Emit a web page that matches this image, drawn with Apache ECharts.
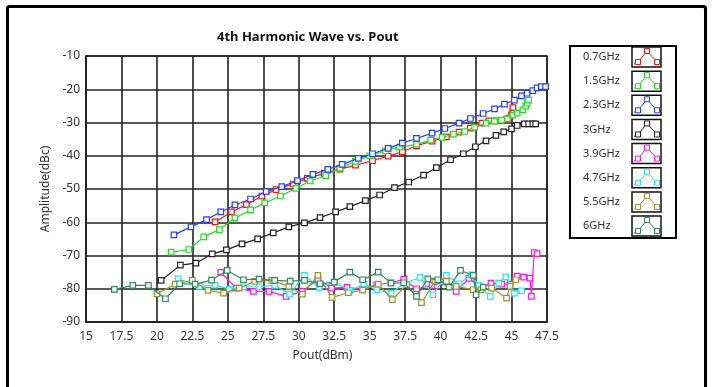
<!DOCTYPE html>
<html>
<head>
<meta charset="utf-8">
<script src="https://cdn.jsdelivr.net/npm/echarts@6/dist/echarts.min.js"></script>
<style>
  html, body { margin: 0; padding: 0; background: #fff; }
  #chart { width: 712px; height: 387px; }
</style>
</head>
<body>
<div id="chart"></div>
<script>
// Frequencies and their trace colours
const seriesNames = ['0.7GHz', '1.5GHz', '2.3GHz', '3GHz', '3.9GHz', '4.7GHz', '5.5GHz', '6GHz'];
const seriesColors = ['#ff1010', '#22dd22', '#2040ff', '#222222', '#ff10ff', '#20e8f0', '#9c9428', '#2e8b5a'];

// Axis ticks
const xTicks = { min: 15, max: 47.5, step: 2.5 };
const yTicks = { min: -90, max: -10, step: 10 };

// Measured [Pout (dBm), amplitude (dBc)] pairs per frequency
const f07 = [[24.1,-59.9],[25.25,-56.9],[26.3,-54.7],[27.4,-52.1],[28.4,-50.2],[29.6,-48.5],[30.6,-46.8],[31.8,-45.3],[32.9,-44.0],[34.0,-42.8],[35.2,-41.5],[36.3,-40.1],[37.3,-38.8],[38.3,-37.0],[39.4,-35.6],[40.4,-34.3],[41.3,-32.9],[42.1,-31.7],[42.9,-30.2],[43.4,-29.5],[43.9,-29.5],[44.3,-29.4],[44.6,-29.2],[44.8,-28.7],[45.0,-27.7],[45.1,-26.7],[45.1,-25.5]];
const f15 = [[21.0,-69.0],[22.25,-68.2],[23.3,-64.4],[24.4,-62.2],[25.5,-58.7],[26.6,-56.3],[27.6,-54.2],[28.7,-52.1],[29.8,-49.8],[30.8,-47.6],[31.9,-46.0],[32.9,-43.7],[34.0,-41.7],[35.0,-40.0],[36.1,-38.5],[37.1,-37.4],[38.3,-36.6],[39.3,-35.3],[40.1,-34.5],[40.9,-33.5],[41.7,-32.7],[42.4,-31.4],[43.2,-30.2],[43.8,-29.6],[44.3,-29.3],[44.7,-28.9],[45.1,-27.8],[45.4,-27.2],[45.8,-26.2],[46.0,-25.1],[46.1,-24.2],[46.2,-23.3]];
const f23 = [[21.2,-63.8],[22.4,-61.4],[23.5,-59.2],[24.5,-56.9],[25.5,-54.8],[26.6,-53.0],[27.7,-50.8],[28.8,-49.3],[29.9,-47.5],[31.0,-45.6],[32.05,-44.1],[33.06,-42.6],[34.2,-40.8],[35.2,-39.4],[36.3,-37.8],[37.3,-36.2],[38.3,-34.8],[39.4,-33.2],[40.3,-31.8],[41.3,-30.2],[42.1,-28.8],[43.0,-27.3],[43.8,-25.9],[44.5,-24.5],[45.2,-23.3],[45.7,-22.0],[46.1,-21.2],[46.5,-20.4],[46.8,-19.6],[47.1,-19.2],[47.4,-19.2]];
const f30 = [[20.3,-77.5],[21.65,-72.9],[22.75,-72.3],[23.9,-69.5],[24.9,-68.3],[26.0,-66.5],[27.1,-65.0],[28.2,-63.2],[29.3,-61.4],[30.4,-60.2],[31.5,-58.6],[32.6,-56.9],[33.6,-55.3],[34.7,-53.5],[35.7,-51.8],[36.75,-49.6],[37.75,-47.9],[38.8,-45.8],[39.7,-43.6],[40.7,-41.2],[41.6,-39.4],[42.45,-37.3],[43.2,-35.5],[43.9,-33.9],[44.45,-32.8],[45.0,-31.9],[45.4,-30.9],[45.9,-30.4],[46.2,-30.4],[46.5,-30.4],[46.7,-30.4]];
const f39 = [[24.5,-75.1],[25.6,-79.8],[26.8,-80.8],[27.9,-80.8],[29.1,-82.3],[30.25,-80.8],[31.35,-77.1],[32.3,-79.8],[33.4,-79.6],[34.5,-80.2],[35.5,-78.8],[36.5,-78.2],[37.4,-77.2],[38.3,-80.0],[39.4,-79.0],[40.2,-78.0],[41.1,-80.8],[42.0,-76.9],[42.85,-79.8],[43.55,-78.3],[44.3,-78.6],[44.9,-78.6],[45.4,-76.2],[45.85,-76.5],[46.3,-76.8],[46.4,-82.3],[46.6,-69.1],[46.8,-69.4]];
const f47 = [[21.5,-77.0],[23.0,-79.3],[24.1,-78.9],[25.1,-80.1],[26.1,-79.4],[27.2,-79.4],[28.3,-79.0],[29.35,-81.6],[30.4,-76.0],[31.45,-79.6],[32.5,-78.0],[33.6,-80.6],[34.6,-78.6],[35.5,-80.3],[36.5,-81.3],[37.45,-78.3],[38.55,-76.6],[39.45,-81.8],[40.4,-76.0],[41.3,-78.5],[42.15,-75.8],[42.7,-79.0],[43.5,-82.3],[44.1,-78.3],[44.6,-76.4],[45.2,-81.3],[45.7,-80.6]];
const f55 = [[20.0,-81.5],[21.3,-78.6],[22.5,-77.5],[23.6,-80.5],[24.7,-81.3],[25.8,-79.8],[26.9,-77.8],[28.1,-77.5],[29.3,-79.3],[30.25,-81.6],[31.35,-76.0],[32.35,-82.6],[33.5,-81.2],[34.5,-80.4],[35.6,-78.6],[36.6,-83.3],[37.6,-78.8],[38.65,-84.2],[39.6,-77.7],[40.4,-77.8],[41.1,-79.3],[42.3,-80.3],[42.85,-80.3],[43.6,-79.8],[44.65,-82.8],[44.9,-79.3],[45.3,-77.3]];
const f60 = [[17.0,-80.2],[18.3,-79.0],[19.4,-79.0],[20.6,-83.0],[21.6,-78.5],[22.7,-78.6],[23.85,-77.4],[24.95,-74.5],[26.1,-77.3],[27.2,-77.1],[28.3,-77.5],[29.4,-77.7],[30.4,-77.5],[31.5,-78.5],[32.5,-78.0],[33.6,-75.0],[34.5,-77.3],[35.6,-75.0],[36.5,-78.3],[37.4,-78.2],[38.3,-82.3],[39.1,-77.0],[39.8,-77.3],[40.6,-79.5],[41.4,-74.5],[42.3,-76.0],[42.5,-81.8],[43.0,-79.5]];

const allData = [f07, f15, f23, f30, f39, f47, f55, f60];

const FONT = 'Noto Sans';
const chart = echarts.init(document.getElementById('chart'));

// Legend box: one row per frequency with a small line-and-marker swatch
const legendItems = [
  { type: 'rect', shape: { x: 570, y: 46, width: 106, height: 192 },
    style: { fill: '#fff', stroke: '#000', lineWidth: 2 }, z: 10 }
];
seriesNames.forEach((name, i) => {
  const cy = 57 + i * 24.15;
  const c = seriesColors[i];
  legendItems.push({ type: 'text', x: 583, y: cy, z: 11,
    style: { text: name, font: '11px "' + FONT + '"', fill: '#333', verticalAlign: 'middle' } });
  legendItems.push({ type: 'rect', shape: { x: 632, y: cy - 10, width: 29, height: 20 }, z: 11,
    style: { fill: '#fff', stroke: '#111', lineWidth: 1.5 } });
  legendItems.push({ type: 'polyline', z: 12,
    shape: { points: [[634, cy + 7], [638, cy + 5], [647, cy - 6], [657, cy + 5], [660, cy + 2]] },
    style: { stroke: c, lineWidth: 1, fill: null } });
  [[638, cy + 5], [647, cy - 6], [657, cy + 5]].forEach(p => {
    legendItems.push({ type: 'rect', z: 13, shape: { x: p[0] - 2.5, y: p[1] - 2.5, width: 5, height: 5 },
      style: { fill: '#fff', stroke: c, lineWidth: 1 } });
  });
});

const option = {
  backgroundColor: '#fff',
  animation: false,
  title: {
    text: '4th Harmonic Wave vs. Pout',
    left: 212, top: 26,
    textStyle: { fontFamily: FONT, fontSize: 13, fontWeight: 'bold', color: '#111' }
  },
  grid: { left: 86, right: 165, top: 56, bottom: 65, show: true, borderColor: '#222', borderWidth: 1.5 },
  xAxis: {
    type: 'value', min: xTicks.min, max: xTicks.max, interval: xTicks.step,
    name: 'Pout(dBm)', nameLocation: 'middle', nameGap: 28,
    nameTextStyle: { fontFamily: FONT, fontSize: 12, color: '#333', padding: [0, 0, 0, 12] },
    axisLine: { show: true, lineStyle: { color: '#222', width: 1.5 } },
    axisTick: { show: false },
    axisLabel: { fontFamily: FONT, fontSize: 12, color: '#333', margin: 9, showMinLabel: true, showMaxLabel: true },
    splitLine: { show: true, lineStyle: { color: '#222', width: 1.6 } }
  },
  yAxis: {
    type: 'value', min: yTicks.min, max: yTicks.max, interval: yTicks.step,
    name: 'Amplitude(dBc)', nameLocation: 'middle', nameGap: 31, nameRotate: 90,
    nameTextStyle: { fontFamily: FONT, fontSize: 12, color: '#333' },
    axisLine: { show: true, lineStyle: { color: '#222', width: 1.5 } },
    axisTick: { show: false },
    axisLabel: { fontFamily: FONT, fontSize: 12, color: '#333', margin: 6 },
    splitLine: { show: true, lineStyle: { color: '#222', width: 1.6 } }
  },
  series: allData.map((d, i) => ({
    name: seriesNames[i],
    type: 'line',
    data: d,
    symbol: 'rect',
    symbolSize: 5.5,
    showAllSymbol: true,
    lineStyle: { color: seriesColors[i], width: 1.2 },
    itemStyle: { color: '#fff', borderColor: seriesColors[i], borderWidth: 1.2 },
    emphasis: { disabled: true },
    z: 3 + i
  })),
  graphic: [
    { type: 'rect', shape: { x: 7.5, y: 6.5, width: 698, height: 420, r: 2 },
      style: { fill: null, stroke: '#000', lineWidth: 3 }, z: 20 },
    ...legendItems
  ]
};

chart.setOption(option);
</script>
</body>
</html>
